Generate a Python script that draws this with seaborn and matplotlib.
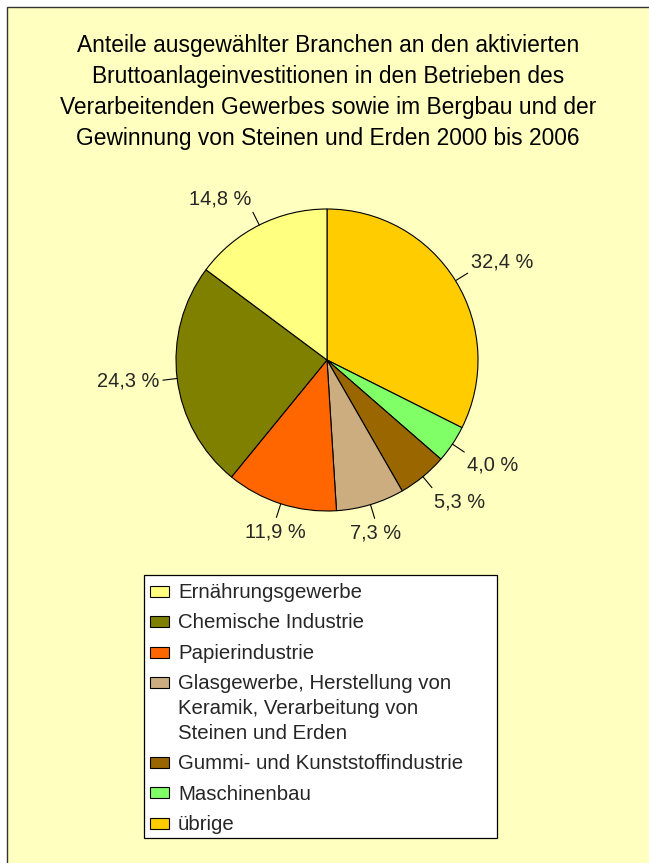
import numpy as np
import matplotlib
matplotlib.use("Agg")
import matplotlib.pyplot as plt
from matplotlib.patches import Rectangle
import seaborn as sns

# ---- data (clockwise from 12 o'clock) ----
categories = ["übrige", "Maschinenbau", "Gummi- und Kunststoffindustrie",
              "Glasgewerbe, Herstellung von\nKeramik, Verarbeitung von\nSteinen und Erden",
              "Papierindustrie", "Chemische Industrie", "Ernährungsgewerbe"]
values = [32.4, 4.0, 5.3, 7.3, 11.9, 24.3, 14.8]
slice_colors = ["#FFCC00", "#80FF66", "#996600", "#CCAD80", "#FF6600", "#808000", "#FFFF80"]
title = ("Anteile ausgewählter Branchen an den aktivierten\n"
         "Bruttoanlageinvestitionen in den Betrieben des\n"
         "Verarbeitenden Gewerbes sowie im Bergbau und der\n"
         "Gewinnung von Steinen und Erden 2000 bis 2006")

sns.set_style("white")
plt.rcParams["font.family"] = ["Liberation Sans", "DejaVu Sans"]

W, H = 649, 863
fig = plt.figure(figsize=(W / 100, H / 100), dpi=100)
fig.patch.set_facecolor("white")

# background axes in pixel coordinates (y downwards)
bgax = fig.add_axes([0, 0, 1, 1], zorder=-10)
bgax.set_xlim(0, W)
bgax.set_ylim(H, 0)
bgax.axis("off")
bgax.add_patch(Rectangle((7, 7), W, H, facecolor="#FFFFC0", edgecolor="#333333",
                         linewidth=1.0))

fig.text(328 / W, 1 - 34 / H, title, ha="center", va="top", fontsize=16.4,
         linespacing=1.45, color="black")

# pie
cx, cy, r = 327, 360, 151
ax = fig.add_axes([(cx - r) / W, (H - cy - r) / H, 2 * r / W, 2 * r / H], zorder=1)
pal = sns.color_palette(slice_colors)
wedges, _ = ax.pie(values, colors=pal, startangle=90, counterclock=False,
                   wedgeprops=dict(edgecolor="black", linewidth=0.8))
ax.set_xlim(-1, 1)
ax.set_ylim(-1, 1)
ax.set_aspect("equal")
ax.axis("off")

for w, v in zip(wedges, values):
    ang = np.deg2rad((w.theta1 + w.theta2) / 2)
    c, s = np.cos(ang), np.sin(ang)
    ha = "center" if abs(c) < 0.35 else ("left" if c > 0 else "right")
    va = "bottom" if s > 0.3 else ("top" if s < -0.3 else "center")
    ax.plot([c * 1.0, c * 1.095], [s * 1.0, s * 1.095], color="black", lw=0.8,
            clip_on=False)
    ax.text(c * 1.12, s * 1.12 - (0.012 if s < -0.3 else 0.0),
            f"{v:.1f}".replace(".", ",") + " %",
            ha=ha, va=va, fontsize=14.4, clip_on=False)

# legend drawn as a box (reverse order, handle aligned with first text line)
lx0, ly0, lx1, ly1 = 144, 575, 497, 838
bgax.add_patch(Rectangle((lx0, ly0), lx1 - lx0, ly1 - ly0, facecolor="white",
                         edgecolor="black", linewidth=0.9, zorder=3))
row_y = 591.5
entry_pitch, line_pitch = 30.3, 25.0
for lab, col in zip(categories[::-1], list(pal)[::-1]):
    bgax.add_patch(Rectangle((150, row_y - 5.5), 19, 11, facecolor=col,
                             edgecolor="black", linewidth=0.8, zorder=4))
    for k, line in enumerate(lab.split("\n")):
        bgax.text(178, row_y + 6.5 + k * line_pitch, line, ha="left",
                  va="baseline", fontsize=14.7, zorder=4)
    row_y += entry_pitch + line_pitch * (lab.count("\n"))

fig.savefig("out.png", dpi=100, facecolor="white")
